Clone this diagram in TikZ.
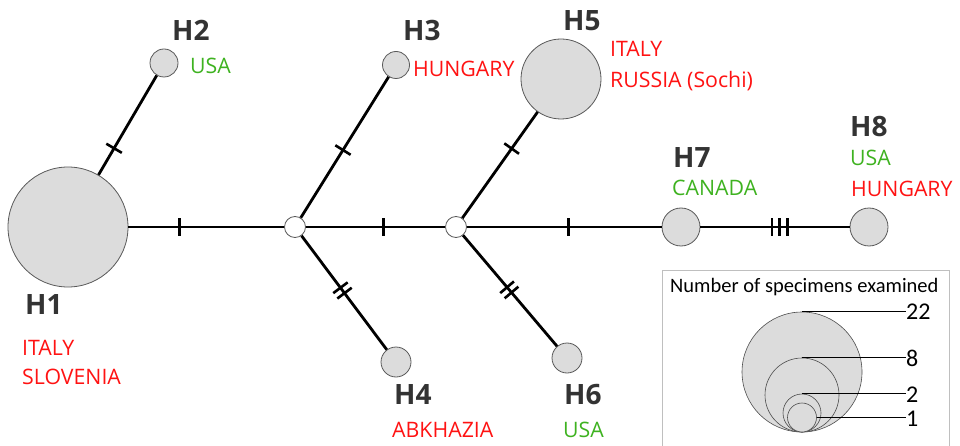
\documentclass[tikz,border=0pt]{standalone}
\usepackage{fontspec}
\setmainfont{Open Sans}
\newfontfamily\legfont{Carlito}
\definecolor{hgray}{HTML}{333333}
\definecolor{cred}{RGB}{255,18,18}
\definecolor{cgreen}{RGB}{62,178,32}
\definecolor{cfill}{RGB}{220,220,220}
\begin{document}
\begin{tikzpicture}[x=1pt,y=-1pt,
  hap/.style={circle,draw=black!65,fill=cfill,line width=0.8pt,inner sep=0pt,minimum size=#1},
  junc/.style={circle,draw=black!65,fill=white,line width=0.8pt,inner sep=0pt,minimum size=21pt},
  link/.style={line width=2.8pt,black},
  tk/.style={rectangle,fill=black,inner sep=0pt,minimum width=2.6pt,minimum height=18pt,sloped},
  hl/.style={anchor=base west,inner sep=0pt,font=\fontsize{28}{30}\selectfont\bfseries,text=hgray},
  cl/.style={anchor=base west,inner sep=0pt,font=\fontsize{21.3}{24}\selectfont},
  lg/.style={anchor=base west,inner sep=0pt,font=\legfont\fontsize{20.5}{22}\selectfont},
  lgn/.style={anchor=base west,inner sep=0pt,font=\legfont\fontsize{24}{26}\selectfont},
  lgc/.style={circle,draw=black!70,fill=cfill,line width=0.6pt,inner sep=0pt,minimum size=#1},
  lgline/.style={line width=0.7pt,black}]
\useasboundingbox (0,0) rectangle (960,446);
% haplotype nodes
\node[hap=120pt] (H1) at (68,227) {};
\node[hap=28pt] (H2) at (164,63) {};
\node[hap=27pt] (H3) at (396,65) {};
\node[hap=30pt] (H4) at (396,362) {};
\node[hap=80pt] (H5) at (561,79) {};
\node[hap=30pt] (H6) at (567,358) {};
\node[hap=38pt] (H7) at (681,227) {};
\node[hap=38pt] (H8) at (869,227) {};
\node[junc] (J1) at (295,227) {};
\node[junc] (J2) at (456,227) {};
% links
\draw[link] (H1) -- (J1);
\draw[link] (H1) -- (H2);
\draw[link] (J1) -- (H3);
\draw[link] (J1) -- (J2);
\draw[link] (J1) -- (H4);
\draw[link] (J2) -- (H5);
\draw[link] (J2) -- (H7);
\draw[link] (J2) -- (H6);
\draw[link] (H7) -- (H8);
% mutation ticks
\path (H1.center) -- (J1.center) node[tk,pos=0.49] {};
\path (H1.center) -- (H2.center) node[tk,pos=0.48] {};
\path (J1.center) -- (H3.center) node[tk,pos=0.475] {};
\path (J1.center) -- (J2.center) node[tk,pos=0.55] {};
\path (J1.center) -- (H4.center) node[tk,pos=0.45] {} node[tk,pos=0.49] {};
\path (J2.center) -- (H5.center) node[tk,pos=0.53] {};
\path (J2.center) -- (H7.center) node[tk,pos=0.5] {};
\path (J2.center) -- (H6.center) node[tk,pos=0.46] {} node[tk,pos=0.50] {};
\path (H7.center) -- (H8.center) node[tk,pos=0.483] {} node[tk,pos=0.525] {} node[tk,pos=0.567] {};
% labels
\node[hl] (L1) at (25,314) {H1};
\node[cl,text=cred] (L1a) at (22,355) {ITALY};
\node[cl,text=cred] (L1b) at (22,384) {SLOVENIA};
\node[hl] (L2) at (172,41) {H2};
\node[cl,text=cgreen] (L2a) at (190,74) {USA};
\node[hl] (L3) at (403,41) {H3};
\node[cl,text=cred] (L3a) at (413,77) {HUNGARY};
\node[hl] (L4) at (394,404) {H4};
\node[cl,text=cred] (L4a) at (392,437) {ABKHAZIA};
\node[hl] (L5) at (563,31) {H5};
\node[cl,text=cred] (L5a) at (610,57) {ITALY};
\node[cl,text=cred] (L5b) at (610,88) {RUSSIA (Sochi)};
\node[hl] (L6) at (564,404) {H6};
\node[cl,text=cgreen] (L6a) at (563,437) {USA};
\node[hl] (L7) at (673,168) {H7};
\node[cl,text=cgreen] (L7a) at (672,196) {CANADA};
\node[hl] (L8) at (850,137) {H8};
\node[cl,text=cgreen] (L8a) at (850,166) {USA};
\node[cl,text=cred] (L8b) at (851,197) {HUNGARY};
% legend
\draw[black!25,line width=0.8pt] (662,270) rectangle (949,452);
\node[lg] (LT) at (670,292) {Number of specimens examined};
\node[lgc=120pt] (C22) at (802,372) {};
\node[lgc=74pt] (C8) at (802,395) {};
\node[lgc=38pt] (C2) at (802,413) {};
\node[lgc=29pt] (C1) at (802,417.5) {};
\node[lgn] (N22) at (906,319) {22};
\node[lgn] (N8) at (906,366) {8};
\node[lgn] (N2) at (906,402) {2};
\node[lgn] (N1) at (906,426) {1};
\draw[lgline] (C22.north) -- (N22.west |- C22.north);
\draw[lgline] (C8.north) -- (N8.west |- C8.north);
\draw[lgline] (C2.north) -- (N2.west |- C2.north);
\draw[lgline] (C1.east) -- (N1.west |- C1.east);
\end{tikzpicture}
\end{document}
